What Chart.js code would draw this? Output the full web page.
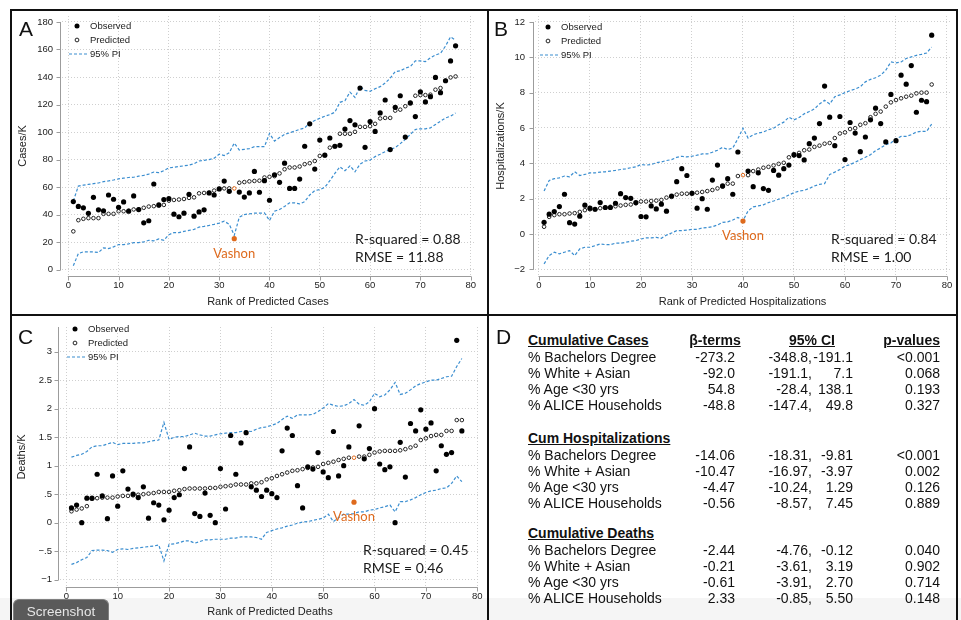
<!DOCTYPE html>
<html>
<head>
<meta charset="utf-8">
<script src="https://cdn.jsdelivr.net/npm/chart.js@4.4.1/dist/chart.umd.min.js"></script>
<style>
html,body{margin:0;padding:0;background:#fff;width:961px;height:620px;overflow:hidden;font-family:"Liberation Sans",Arial,sans-serif;}
canvas{position:absolute;}
#frame{position:absolute;left:10px;top:9px;width:944px;height:640px;border:2px solid #111;}
.vline{position:absolute;left:487px;top:9px;width:2px;height:620px;background:#111;}
.hline{position:absolute;left:10px;top:314px;width:948px;height:2px;background:#111;}
.letter{position:absolute;font-size:21px;line-height:22px;color:#111;}
.t{position:absolute;font-size:14px;line-height:16px;color:#111;white-space:pre;}
.h{font-weight:bold;text-decoration:underline;}
#shade{position:absolute;left:0;top:598px;width:961px;height:22px;background:rgba(0,0,0,0.04);}
#shot{position:absolute;left:13px;top:599px;width:94px;height:24px;background:#5a5a5a;border:1px solid #808080;border-bottom:none;border-radius:6px 6px 0 0;color:#e6e6e6;font-size:13.5px;line-height:23px;text-align:center;}
</style>
</head>
<body>
<script>
// ---------------- DATA ----------------
const ranks = [1,2,3,4,5,6,7,8,9,10,11,12,13,14,15,16,17,18,19,20,21,22,23,24,25,26,27,28,29,30,31,32,33,34,35,36,37,38,39,40,41,42,43,44,45,46,47,48,49,50,51,52,53,54,55,56,57,58,59,60,61,62,63,64,65,66,67,68,69,70,71,72,73,74,75,76,77];

const xTicks = [0,10,20,30,40,50,60,70,80];
const xLabels = ['0','10','20','30','40','50','60','70','80'];
const yTicksA = [0,20,40,60,80,100,120,140,160,180];
const yLabelsA = ['0','20','40','60','80','100','120','140','160','180'];
const yTicksB = [-2,0,2,4,6,8,10,12];
const yLabelsB = ['\u22122','0','2','4','6','8','10','12'];
const yTicksC = [-1,-0.5,0,0.5,1,1.5,2,2.5,3];
const yLabelsC = ['\u22121','\u2212.5','0','.5','1','1.5','2','2.5','3'];

const legendLabels = ['Observed','Predicted','95% PI'];

// Panel A: cases per 1000
const casesObs = [49.5,46,45,41,52.6,43.5,42.8,54.3,51.2,45.4,49.3,42.5,53.6,43.7,34.1,35.6,62.3,47.1,51,51.7,40.4,38.5,41.1,54.8,38.9,42,43.5,55.8,54.3,58.7,64.4,57,22.6,56.4,52.8,55.8,71.4,56.3,64.7,50.5,69,63.5,77.4,59.1,59.1,65.9,89.7,106,73.1,94.2,83.2,95.7,89.7,90.4,102.2,108.4,105.3,132,88.9,107.7,100.5,113.9,123.3,87.3,118,126.4,96.4,121.2,111.3,129.3,121.9,125.7,139.7,128.6,137.3,151.7,162.7];
const casesPred = [27.9,36,37,37.5,37.5,37.5,40.6,40.6,40.6,42.5,42.5,43,43.8,43.8,45,45.9,46.2,46.6,47.1,50.2,50.7,51,51.4,52.2,52.6,55.5,55.8,55.8,57.5,58.7,59.1,59.1,59.1,63.2,63.7,64.2,64.5,64.7,67,67.5,68,70,73,74.3,74.3,75,76.7,77.4,79,82.7,83.2,88.7,89.7,98.8,98.8,98.8,100.2,103.8,103.8,104.3,106,109.9,110.3,110.3,115.6,116.3,118.8,121,126.4,126.9,126.9,127.2,130.8,132,137.3,139.7,140.4];
const casesUpper = [50,60.8,61.5,62,62.5,63,64,64.5,65.2,66,66.5,67,67.2,68,68.5,69.5,71,70.5,72,74,74.5,75,75.5,76,77,79,79.5,80,81,84,83,85,92,87,87.5,88,89.4,89.4,89.4,99,93.5,96,98.3,99.5,100.7,102,103,106.7,108.4,110,111.5,112.7,114.4,121.6,122.8,129,125.2,133,130.3,129.6,131.5,133,135.6,139.2,144,144.5,146.4,147.6,151.7,151.7,151.2,154,156,157.2,162.5,169.2,166.8];
const casesLower = [2.9,11.8,13,13,13,12.5,15.9,15.4,16.6,18.3,18.3,18.8,19.7,19.7,20.2,21.4,21,22.4,21.4,25.5,27,27,27.9,28.6,29.3,31,31.5,32.2,33,33.9,35.3,33,25,38.2,40.1,40.6,41.1,41.1,41.3,35.8,42.5,43.8,46,48.6,48.6,47.8,49.5,54.3,57.5,58.2,59.9,64.7,70,74.8,71.9,75.5,71.2,76.7,79,79.6,82.2,83.9,85.8,87.5,88.7,91.6,94.7,98.3,101.9,102.4,102.4,103.1,105.5,107.9,110.3,111.5,113.9];

// Panel B: hospitalizations per 1000
const hospObs = [0.66,1.12,1.27,1.55,2.25,0.64,0.56,1.01,1.63,1.46,1.4,1.78,1.5,1.5,1.74,2.28,2.06,2.02,1.78,0.99,0.97,1.59,1.42,1.69,1.29,2.15,2.96,3.7,3.31,2.3,1.46,2.0,1.4,3.05,3.9,2.72,3.13,2.25,4.64,0.73,3.56,2.68,3.46,2.57,2.47,3.6,3.33,3.7,3.9,4.49,4.44,4.19,5.11,5.43,6.25,8.37,6.61,5.0,6.65,4.21,6.31,5.71,4.66,5.49,6.46,7.12,6.25,5.21,7.9,5.28,8.99,8.48,9.53,6.89,7.57,7.49,11.25];
const hospPred = [0.41,0.97,1.07,1.12,1.12,1.16,1.18,1.25,1.35,1.4,1.4,1.46,1.5,1.54,1.57,1.61,1.65,1.67,1.74,1.84,1.84,1.87,1.89,1.93,2.06,2.1,2.23,2.28,2.28,2.32,2.34,2.38,2.43,2.49,2.58,2.68,2.85,2.85,3.28,3.33,3.33,3.56,3.65,3.75,3.8,3.88,3.97,4.03,4.34,4.44,4.59,4.74,4.78,4.93,5.0,5.11,5.15,5.43,5.69,5.75,5.94,5.99,6.18,6.27,6.61,6.8,6.93,7.21,7.45,7.58,7.68,7.77,7.83,7.96,8.0,8.0,8.46];
const hospUpper = [2.43,3.03,3.13,3.18,3.28,3.24,3.52,3.31,3.37,3.46,3.46,3.5,3.52,3.56,3.6,3.65,3.69,3.75,3.8,3.93,3.9,3.93,4.03,4.08,4.16,4.21,4.34,4.4,4.36,4.4,4.46,4.53,4.53,4.63,4.74,4.9,4.78,4.87,5.39,5.99,5.43,5.62,5.71,5.77,5.9,5.99,6.18,6.33,6.61,6.46,6.59,6.8,6.93,7.08,7.36,7.57,7.36,7.77,7.87,8.0,8.11,8.2,8.33,8.61,8.75,8.84,8.99,9.27,9.74,9.68,9.74,9.93,10.02,10.11,10.17,10.24,10.58];
const hospLower = [-1.69,-1.22,-1.03,-1.12,-1.03,-0.94,-1.22,-0.84,-0.75,-0.75,-0.66,-0.56,-0.6,-0.6,-0.52,-0.52,-0.47,-0.41,-0.37,-0.28,-0.22,-0.22,-0.19,-0.24,-0.06,0.06,0.19,0.19,0.22,0.26,0.26,0.34,0.37,0.41,0.51,0.66,0.69,0.79,0.94,0.75,1.31,1.54,1.59,1.65,1.78,1.87,1.97,2.06,2.21,2.34,2.43,2.47,2.58,2.72,2.81,2.85,3.37,3.5,3.65,3.84,3.93,4.06,4.21,4.34,4.49,4.72,4.87,5.06,5.15,5.39,5.52,5.52,5.62,5.77,5.81,5.81,6.22];

// Panel C: deaths per 1000
const deathsObs = [0.26,0.31,0.0,0.43,0.43,0.85,0.47,0.07,0.82,0.29,0.91,0.59,0.5,0.44,0.63,0.08,0.35,0.31,0.05,0.22,0.44,0.49,0.95,1.33,0.16,0.11,0.52,0.13,0.0,0.95,0.24,1.53,0.85,1.4,1.58,0.63,0.57,0.46,0.57,0.51,0.44,1.26,1.66,1.53,0.65,0.26,0.98,0.94,1.23,0.89,0.79,1.6,0.82,1.0,1.33,0.36,1.7,1.12,1.3,2.0,1.03,0.93,0.98,0.0,1.41,0.8,1.74,1.61,1.98,1.64,1.75,0.91,1.35,1.2,1.23,3.2,1.61];
const deathsPred = [0.2,0.23,0.25,0.29,0.42,0.43,0.44,0.44,0.44,0.46,0.47,0.47,0.48,0.49,0.5,0.51,0.52,0.54,0.54,0.54,0.56,0.57,0.59,0.6,0.6,0.6,0.6,0.61,0.61,0.63,0.64,0.65,0.67,0.67,0.67,0.69,0.69,0.71,0.76,0.78,0.82,0.85,0.88,0.91,0.92,0.94,0.96,0.97,0.98,1.03,1.05,1.07,1.1,1.12,1.14,1.14,1.16,1.16,1.19,1.23,1.25,1.26,1.26,1.26,1.27,1.29,1.32,1.35,1.45,1.48,1.52,1.54,1.54,1.61,1.61,1.8,1.8];
const deathsUpper = [1.15,1.18,1.2,1.25,1.33,1.35,1.35,1.38,1.41,1.37,1.39,1.39,1.39,1.4,1.4,1.42,1.44,1.45,1.76,1.46,1.5,1.51,1.51,1.54,1.57,1.54,1.52,1.52,1.54,1.56,1.57,1.58,1.58,1.6,1.61,1.6,1.64,1.67,1.68,1.71,1.74,1.81,1.87,1.83,1.89,1.89,1.89,1.9,1.95,2.01,2.09,2.06,2.04,2.05,2.09,2.16,2.08,2.06,2.12,2.27,2.21,2.24,2.33,2.46,2.25,2.27,2.33,2.4,2.44,2.47,2.5,2.5,2.53,2.56,2.57,2.74,2.88];
const deathsLower = [-0.73,-0.7,-0.65,-0.61,-0.49,-0.48,-0.48,-0.49,-0.52,-0.47,-0.46,-0.47,-0.45,-0.44,-0.43,-0.42,-0.41,-0.39,-0.67,-0.38,-0.37,-0.35,-0.32,-0.32,-0.36,-0.33,-0.3,-0.3,-0.29,-0.29,-0.29,-0.27,-0.27,-0.25,-0.25,-0.25,-0.26,-0.29,-0.17,-0.14,-0.11,-0.09,-0.06,-0.04,-0.01,0.01,0.02,0.04,0.06,0.08,0.15,0.02,0.09,0.15,0.15,0.16,0.19,0.19,0.22,0.23,0.26,0.28,0.31,0.19,0.37,0.37,0.4,0.44,0.49,0.53,0.56,0.57,0.6,0.61,0.69,0.82,0.72];

const vashonRankA = 33, vashonRankB = 40, vashonRankC = 56;
const statsA = ['R-squared = 0.88','RMSE = 11.88'];
const statsB = ['R-squared = 0.84','RMSE = 1.00'];
const statsC = ['R-squared = 0.45','RMSE = 0.46'];

// Panel D table
const tblVars = ['% Bachelors Degree','% White + Asian','% Age <30 yrs','% ALICE Households'];
const tblColHeads = ['\u03b2-terms','95% CI','p-values'];
const casesBeta = ['-273.2','-92.0','54.8','-48.8'];
const casesCiLo = ['-348.8,','-191.1,','-28.4,','-147.4,'];
const casesCiHi = ['-191.1','7.1','138.1','49.8'];
const casesP = ['<0.001','0.068','0.193','0.327'];
const hospBeta = ['-14.06','-10.47','-4.47','-0.56'];
const hospCiLo = ['-18.31,','-16.97,','-10.24,','-8.57,'];
const hospCiHi = ['-9.81','-3.97','1.29','7.45'];
const hospP = ['<0.001','0.002','0.126','0.889'];
const deathsBeta = ['-2.44','-0.21','-0.61','2.33'];
const deathsCiLo = ['-4.76,','-3.61,','-3.91,','-0.85,'];
const deathsCiHi = ['-0.12','3.19','2.70','5.50'];
const deathsP = ['0.040','0.902','0.714','0.148'];

// ---------------- STYLE / LAYOUT ----------------
const FONT = '"Liberation Sans", Arial, Helvetica, sans-serif';
const BLUE = '#3b8ed0', ORANGE = '#de6a1d', GRID = '#cfcfcf', AXIS = '#9c9c9c', TXT = '#222';

const decor = {
  id: 'decor',
  afterDraw(chart, args, o) {
    const {ctx, chartArea: a, scales: {x, y}} = chart;
    ctx.save();
    const seg = (x1, y1, x2, y2) => { ctx.beginPath(); ctx.moveTo(x1, y1); ctx.lineTo(x2, y2); ctx.stroke(); };
    ctx.strokeStyle = AXIS; ctx.lineWidth = 1; ctx.setLineDash([]);
    // y axis
    const ax = Math.round(a.left) - 1.5;
    const yt = y.ticks, xt = x.ticks;
    const yb = y.getPixelForValue(yt[0].value);
    const ytop = o.axisToTop ? a.top : y.getPixelForValue(yt[yt.length - 1].value);
    seg(ax, yb + 0.5, ax, ytop);
    yt.forEach(t => { const p = Math.round(y.getPixelForValue(t.value)) + 0.5; seg(ax, p, ax - 4, p); });
    // x axis
    const by = Math.round(a.bottom) + 0.5;
    seg(x.getPixelForValue(xt[0].value) - 0.5, by, x.getPixelForValue(xt[xt.length - 1].value) + 0.5, by);
    xt.forEach(t => { const p = Math.round(x.getPixelForValue(t.value)) + 0.5; seg(p, by, p, by + 4); });

    // legend
    const lx = a.left + o.leg.dx, ly = a.top + o.leg.dy;
    ctx.fillStyle = '#000';
    ctx.beginPath(); ctx.arc(lx, ly, 2.5, 0, Math.PI * 2); ctx.fill();
    ctx.strokeStyle = '#222'; ctx.lineWidth = 1;
    ctx.beginPath(); ctx.arc(lx, ly + 14, 1.9, 0, Math.PI * 2); ctx.stroke();
    ctx.strokeStyle = BLUE; ctx.lineWidth = 1.2; ctx.setLineDash([3, 2]);
    seg(lx - 8, ly + 28, lx + 10, ly + 28);
    ctx.setLineDash([]);
    ctx.fillStyle = TXT; ctx.font = '9.5px ' + FONT; ctx.textBaseline = 'middle'; ctx.textAlign = 'left';
    legendLabels.forEach((s, i) => ctx.fillText(s, lx + o.leg.tx, ly + i * 14));

    // stats text
    ctx.font = '14px Lato, "Open Sans", sans-serif'; ctx.fillStyle = '#1a1a1a';
    ctx.fillText(o.stats[0], a.left + o.statX, a.bottom - 37);
    ctx.fillText(o.stats[1], a.left + o.statX, a.bottom - 19);

    // Vashon label
    const vi = ranks.indexOf(o.vashon);
    const vx = x.getPixelForValue(ranks[vi]);
    const vy = y.getPixelForValue(chart.data.datasets[0].data[vi].y);
    ctx.font = '13px Lato, "Open Sans", sans-serif'; ctx.fillStyle = ORANGE; ctx.textAlign = 'center';
    ctx.fillText('Vashon', vx, vy + 15);
    ctx.restore();
  }
};

const panels = [
  {box: {l: 12, t: 11, w: 474, h: 301}, area: {l: 62, r: 474, t: 14, b: 276},
   xr: [-1.25, 80.66], yr: [-4.54, 184.33], yTicks: yTicksA, yLabels: yLabelsA,
   xTitle: 'Rank of Predicted Cases', yTitle: 'Cases/K', yPad: 9, yTitlePad: 4, xTitlePad: 3.4,
   obs: casesObs, pred: casesPred, up: casesUpper, lo: casesLower, vashon: vashonRankA,
   leg: {dx: 15, dy: 10, tx: 13}, stats: statsA, statX: 293, axisToTop: false},
  {box: {l: 489, t: 11, w: 468, h: 301}, area: {l: 535, r: 950, t: 14, b: 276},
   xr: [-0.78, 80.59], yr: [-2.376, 12.337], yTicks: yTicksB, yLabels: yLabelsB,
   xTitle: 'Rank of Predicted Hospitalizations', yTitle: 'Hospitalizations/K', yPad: 10, yTitlePad: 5.4, xTitlePad: 3.6,
   obs: hospObs, pred: hospPred, up: hospUpper, lo: hospLower, vashon: vashonRankB,
   leg: {dx: 13, dy: 11, tx: 13}, stats: statsB, statX: 296, axisToTop: false},
  {box: {l: 12, t: 316, w: 474, h: 304}, area: {l: 60, r: 480, t: 327, b: 587},
   xr: [-1.23, 80.53], yr: [-1.128, 3.433], yTicks: yTicksC, yLabels: yLabelsC,
   xTitle: 'Rank of Predicted Deaths', yTitle: 'Deaths/K', yPad: 8, yTitlePad: 3.4, xTitlePad: 1.4,
   obs: deathsObs, pred: deathsPred, up: deathsUpper, lo: deathsLower, vashon: vashonRankC,
   leg: {dx: 15, dy: 2, tx: 13}, stats: statsC, statX: 303, axisToTop: true}
];

function makeChart(p) {
  const cv = document.createElement('canvas');
  cv.width = p.box.w; cv.height = p.box.h;
  Object.assign(cv.style, {left: p.box.l + 'px', top: p.box.t + 'px', width: p.box.w + 'px', height: p.box.h + 'px'});
  document.body.appendChild(cv);
  const pts = arr => arr.map((v, i) => ({x: ranks[i], y: v}));
  const obsCol = ranks.map(r => r === p.vashon ? ORANGE : '#000');
  const predCol = ranks.map(r => r === p.vashon ? ORANGE : '#222');
  const yW = p.area.l - p.box.l;
  const xH = p.box.t + p.box.h - p.area.b;
  const zeroPad = s => { s.paddingLeft = 0; s.paddingRight = 0; s.paddingTop = 0; s.paddingBottom = 0; };
  new Chart(cv, {
    type: 'scatter',
    data: {datasets: [
      {label: 'Observed', data: pts(p.obs), pointRadius: 2.6, pointBorderWidth: 0,
       pointBackgroundColor: obsCol, pointBorderColor: obsCol},
      {label: 'Predicted', data: pts(p.pred), pointRadius: 1.8, pointBorderWidth: 1,
       pointBorderColor: predCol, pointBackgroundColor: 'rgba(255,255,255,0)'},
      {label: '95% PI', data: pts(p.up), showLine: true, borderColor: BLUE, borderWidth: 1.2,
       borderDash: [3, 2], pointRadius: 0, fill: false, tension: 0},
      {label: '95% PI lower', data: pts(p.lo), showLine: true, borderColor: BLUE, borderWidth: 1.2,
       borderDash: [3, 2], pointRadius: 0, fill: false, tension: 0}
    ]},
    options: {
      responsive: false, maintainAspectRatio: false, animation: false, devicePixelRatio: 1, events: [],
      layout: {padding: {left: 0, right: p.box.l + p.box.w - p.area.r, top: p.area.t - p.box.t, bottom: 0}},
      plugins: {legend: {display: false}, tooltip: {enabled: false},
        decor: {leg: p.leg, stats: p.stats, statX: p.statX, vashon: p.vashon, axisToTop: p.axisToTop}},
      scales: {
        x: {type: 'linear', position: 'bottom', min: p.xr[0], max: p.xr[1],
          afterBuildTicks: s => { s.ticks = xTicks.map(v => ({value: v})); },
          afterFit: s => { s.height = xH; zeroPad(s); },
          grid: {color: GRID, lineWidth: 1, drawTicks: false},
          border: {display: false, dash: [1, 2]},
          ticks: {padding: 4, color: TXT, autoSkip: false, maxRotation: 0,
            font: {family: FONT, size: 9.5}, callback: (v, i) => xLabels[i]},
          title: {display: true, text: p.xTitle, color: TXT, font: {family: FONT, size: 11},
            padding: {top: 0, bottom: p.xTitlePad}}
        },
        y: {type: 'linear', position: 'left', min: p.yr[0], max: p.yr[1],
          afterBuildTicks: s => { s.ticks = p.yTicks.map(v => ({value: v})); },
          afterFit: s => { s.width = yW; zeroPad(s); },
          grid: {color: GRID, lineWidth: 1, drawTicks: false},
          border: {display: false, dash: [1, 2]},
          ticks: {padding: p.yPad, color: TXT, autoSkip: false,
            font: {family: FONT, size: 9.5}, callback: (v, i) => p.yLabels[i]},
          title: {display: true, text: p.yTitle, color: TXT, font: {family: FONT, size: 11},
            padding: {top: p.yTitlePad, bottom: 0}}
        }
      }
    },
    plugins: [decor]
  });
}
panels.forEach(makeChart);

// ---------------- TABLE (panel D) ----------------
function txt(s, x, yc, align, cls) {
  const d = document.createElement('div');
  d.className = 't' + (cls ? ' ' + cls : '');
  d.textContent = s;
  const w = 300;
  let left = x;
  if (align === 'right') { left = x - w; d.style.textAlign = 'right'; d.style.width = w + 'px'; }
  if (align === 'center') { left = x - w / 2; d.style.textAlign = 'center'; d.style.width = w + 'px'; }
  d.style.left = left + 'px';
  d.style.top = (yc - 8) + 'px';
  document.body.appendChild(d);
  return d;
}
const blocks = [
  {title: 'Cumulative Cases', beta: casesBeta, lo: casesCiLo, hi: casesCiHi, p: casesP},
  {title: 'Cum Hospitalizations', beta: hospBeta, lo: hospCiLo, hi: hospCiHi, p: hospP},
  {title: 'Cumulative Deaths', beta: deathsBeta, lo: deathsCiLo, hi: deathsCiHi, p: deathsP}
];
const blockY = [340, 438, 533];
const colX = {label: 528, beta: 735, lo: 812, hi: 853, p: 940, hBeta: 715, hCI: 812};
blocks.forEach((b, bi) => {
  const y0 = blockY[bi];
  txt(b.title, colX.label, y0, 'left', 'h');
  if (bi === 0) {
    txt(tblColHeads[0], colX.hBeta, y0, 'center', 'h');
    txt(tblColHeads[1], colX.hCI, y0, 'center', 'h');
    txt(tblColHeads[2], colX.p, y0, 'right', 'h');
  }
  tblVars.forEach((v, i) => {
    const yc = y0 + 17 + i * 16;
    txt(v, colX.label, yc, 'left');
    txt(b.beta[i], colX.beta, yc, 'right');
    txt(b.lo[i], colX.lo, yc, 'right');
    txt(b.hi[i], colX.hi, yc, 'right');
    txt(b.p[i], colX.p, yc, 'right');
  });
});
</script>
<div id="frame"></div>
<div class="vline"></div>
<div class="hline"></div>
<div class="letter" style="left:19px;top:18px;">A</div>
<div class="letter" style="left:494px;top:18px;">B</div>
<div class="letter" style="left:18px;top:326px;">C</div>
<div class="letter" style="left:496px;top:326px;">D</div>
<div id="shade"></div>
<div id="shot">Screenshot</div>
</body>
</html>
